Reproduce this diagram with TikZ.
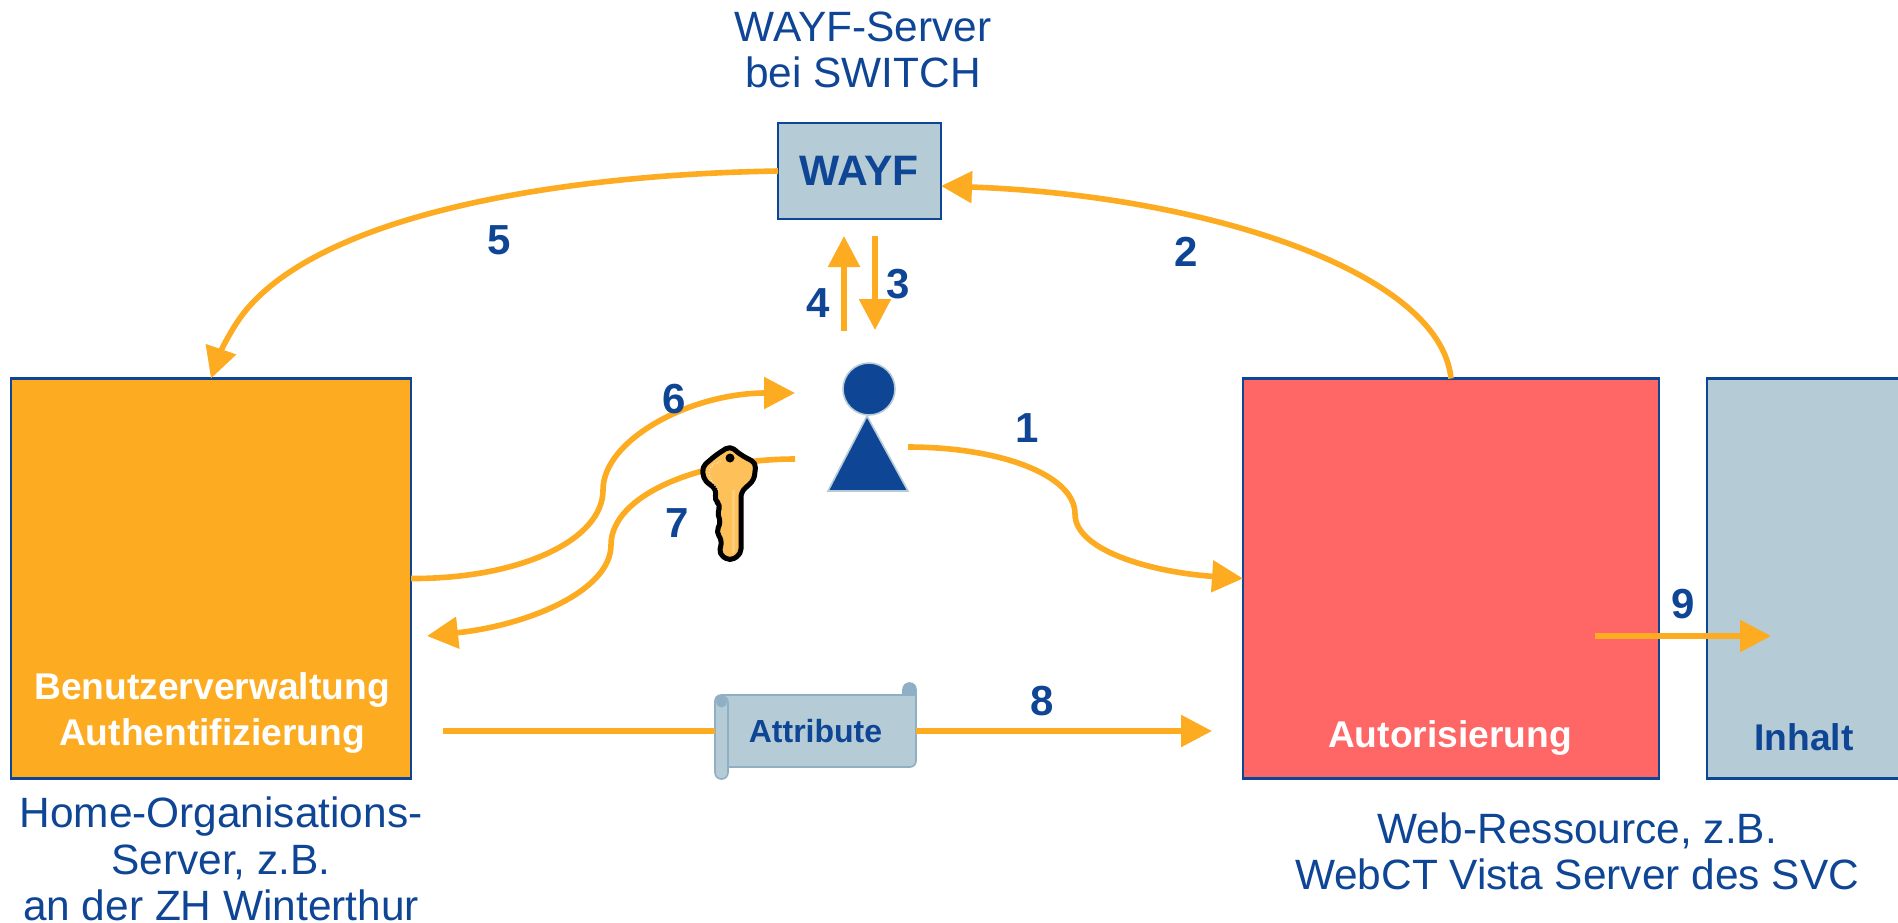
\documentclass[tikz,border=0pt]{standalone}
\usepackage{fontspec}
\setmainfont{Liberation Sans}
\usetikzlibrary{arrows.meta}
\definecolor{navy}{HTML}{0F4595}
\definecolor{amber}{HTML}{FDAB21}
\definecolor{salmon}{HTML}{FF6666}
\definecolor{steel}{HTML}{B5CBD6}
\definecolor{steeldark}{HTML}{8FB0C4}
\tikzset{
  every node/.style={inner sep=0pt,outer sep=0pt},
  flow/.style={draw=amber,line width=2.8pt,-{Triangle[length=15.5pt,width=15.5pt]}},
  plainflow/.style={draw=amber,line width=2.8pt},
  serverbox/.style={draw=navy,line width=1.2pt,minimum width=#1,minimum height=200pt},
  stepnum/.style={text=navy,font=\fontsize{21}{24}\selectfont\bfseries},
  caption/.style={text=navy,align=center,font=\fontsize{21.2}{23.1}\selectfont},
  boxtitle/.style={font=\fontsize{18.6}{23}\selectfont\bfseries,align=center},
}
\begin{document}
\begin{tikzpicture}[x=0.5pt,y=-0.5pt]
\useasboundingbox (0,0) rectangle (1898,922);
\node[serverbox=200pt,fill=amber] (homeorg) at (211,578.5) {}; % Server.home
\node[serverbox=208pt,fill=salmon] (authz) at (1451,578.5) {}; % Server.web
\node[serverbox=99pt,fill=steel] (content) at (1806,578.5) {}; % Server.content
\node[draw=navy,line width=1.2pt,fill=steel,minimum width=81.5pt,minimum height=48pt] (wayf) at (859.5,171) {}; % Server.wayf
\node[boxtitle,text=white] (homeorgtext) at (212,713) {Benutzerverwaltung\\Authentifizierung};
\node[boxtitle,text=white] (authztext) at (1450,738) {Autorisierung};
\node[boxtitle,text=navy] (contenttext) at (1804,737) {Inhalt};
\node[text=navy,font=\fontsize{21.3}{24}\selectfont\bfseries] (wayftext) at (859,171) {WAYF};
\node[caption] (wayfcap) at (863,50) {WAYF-Server\\bei SWITCH};
\node[caption] (homecap) at (221,859) {Home-Organisations-\\Server, z.B.\\an der ZH Winterthur};
\node[caption] (webcap) at (1577,851) {Web-Ressource, z.B.\\WebCT Vista Server des SVC};
% person
\node[circle,fill=navy,draw=steel,line width=0.8pt,minimum size=26pt] (head) at (869,389) {};
\filldraw[fill=navy,draw=steel,line width=0.8pt] (867,416) -- (908,491) -- (828,491) -- cycle;
% free ends
\coordinate (wayfin) at (941,186);
\coordinate (down1) at (875,236);
\coordinate (down2) at (875,330);
\coordinate (up1) at (844,331);
\coordinate (up2) at (844,236);
\coordinate (six) at (795,393);
\coordinate (seven) at (795,459);
\coordinate (sevenend) at (427,636);
\coordinate (one) at (908,447);
\coordinate (eight) at (443,731);
\coordinate (eightend) at (1212,731);
\coordinate (nine) at (1595,636);
\coordinate (nineend) at (1771,636);
% scroll
\filldraw[fill=steeldark,draw=steeldark,line width=0.8pt,rounded corners=3.2pt] (903,683) rectangle (916,700);
\filldraw[fill=steel,draw=steeldark,line width=0.8pt,rounded corners=3pt] (715,695) [sharp corners] -- (916,695) [rounded corners=3pt] -- (916,767) -- (715,767) -- cycle;
\filldraw[fill=steel,draw=steeldark,line width=0.8pt,rounded corners=3.2pt] (715,696) rectangle (728,779);
\filldraw[fill=steeldark,draw=steeldark] (721.5,702) circle (5);
\node[text=navy,font=\fontsize{16}{18}\selectfont\bfseries,minimum width=100.5pt,minimum height=36pt] (attr) at (815.5,731) {Attribute};
% connectors
\draw[flow] (authz.north) .. controls (1440,270) and (1200,195) .. (wayfin); % Step.2
\draw[flow] (wayf.west) .. controls (540,175) and (310,220) .. (240,318) .. controls (226,338) and (218,358) .. (homeorg.north); % Step.5
\draw[flow] (down1) -- (down2); % Step.3
\draw[flow] (up1) -- (up2); % Step.4
\draw[flow] (homeorg.east) .. controls (520,579) and (603,540) .. (603,490) .. controls (603,440) and (690,393) .. (six); % Step.6
\draw[flow] (seven) .. controls (700,459) and (611,495) .. (611,545) .. controls (611,590) and (530,625) .. (sevenend); % Step.7
\draw[flow] (one) .. controls (1000,447) and (1075,475) .. (1075,514) .. controls (1075,550) and (1150,572) .. (authz.west); % Step.1
\draw[plainflow] (eight) -- (attr.west); % Step.8
\draw[flow] (attr.east) -- (eightend); % Step.8
\draw[flow] (nine) -- (nineend); % Step.9
% key
\filldraw[fill=amber!75!white,draw=black,line width=2.5pt,rounded corners=2.5pt,line join=round] (730,446) -- (741,455) -- (756,463) -- (754,480) -- (741,492) -- (741,554) -- (730,561) -- (719,554) -- (722,540) -- (716,532) -- (721,522) -- (717,513) -- (721,505) -- (714,500) -- (717,490) -- (704,480) -- (702,467) -- (716,455) -- cycle;
\draw[amber!60!white,line width=1.5pt] (733,490) -- (733,553);
\draw[white,line width=0.4pt,densely dotted,rounded corners=3pt] (718,490) -- (709,478) -- (709,466) -- (722,461);
\fill[black] (730,458) circle (4.5);
% step numbers
\node[stepnum] (n1) at (1027,428) {1};
\node[stepnum] (n2) at (1186,252) {2};
\node[stepnum] (n3) at (898,284) {3};
\node[stepnum] (n4) at (818,303) {4};
\node[stepnum] (n5) at (499,240) {5};
\node[stepnum] (n6) at (674,399) {6};
\node[stepnum] (n7) at (677,523) {7};
\node[stepnum] (n8) at (1042,701) {8};
\node[stepnum] (n9) at (1683,604) {9};
\end{tikzpicture}
\end{document}
